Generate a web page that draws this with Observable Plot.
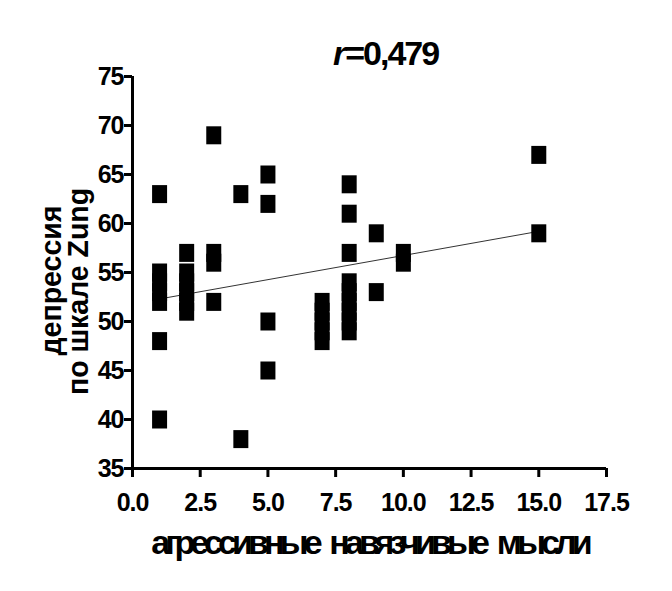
<!DOCTYPE html>
<html>
<head>
<meta charset="utf-8">
<script src="https://cdn.jsdelivr.net/npm/d3@7"></script>
<script src="https://cdn.jsdelivr.net/npm/@observablehq/plot@0.6"></script>
<style>
  body { margin: 0; background: #fff; }
  #chart { width: 672px; height: 591px; }
</style>
</head>
<body>
<div id="chart"></div>
<script>
// ── data ────────────────────────────────────────────────────
const aggrLevels = [1, 2, 3, 4, 5, 7, 8, 9, 10, 15];
const zungByLevel = [
  [63, 55, 54, 53, 52, 48, 40],          // 1
  [57, 55, 54, 53, 52, 51],              // 2
  [69, 57, 56, 52],                      // 3
  [63, 38],                              // 4
  [65, 62, 50, 45],                      // 5
  [52, 51, 50, 49, 48],                  // 7
  [64, 61, 57, 54, 53, 52, 51, 50, 49],  // 8
  [59, 53],                              // 9
  [57, 56],                              // 10
  [67, 59]                               // 15
];
// fitted line, as drawn (ends at x = 1 and x = 15)
const fitX = [1, 15];
const fitY = [52.3, 59.2];

const xTicks = [0, 2.5, 5, 7.5, 10, 12.5, 15, 17.5];
const yTicks = [35, 40, 45, 50, 55, 60, 65, 70, 75];

const titleText = "0,479";
const xLabel = "агрессивные навязчивые мысли";
const yLabel1 = "депрессия";
const yLabel2 = "по шкале Zung";

// ── tables for Plot ─────────────────────────────────────────
const points = aggrLevels.flatMap((x, i) => zungByLevel[i].map(y => ({x, y})));
const fit = fitX.map((x, i) => ({x, y: fitY[i]}));

// filled rectangle marker, a bit taller than wide
const rectSymbol = {
  draw(ctx) {
    ctx.moveTo(-7.5, -9);
    ctx.lineTo(7.5, -9);
    ctx.lineTo(7.5, 9);
    ctx.lineTo(-7.5, 9);
    ctx.closePath();
  }
};

const chart = Plot.plot({
  width: 672,
  height: 591,
  marginLeft: 132,
  marginRight: 66,
  marginTop: 76,
  marginBottom: 123,
  style: {
    fontFamily: "'Liberation Sans', Arial, sans-serif",
    fontWeight: "bold",
    color: "#000",
    background: "#fff"
  },
  x: { domain: [0, 17.5] },
  y: { domain: [35, 75] },
  marks: [
    Plot.axisX({
      ticks: xTicks,
      tickFormat: d3.format(".1f"),
      tickSize: 9,
      tickPadding: 16,
      strokeWidth: 3,
      fontSize: 25,
      label: null
    }),
    Plot.axisY({
      ticks: yTicks,
      tickSize: 8,
      tickPadding: 1,
      strokeWidth: 3,
      fontSize: 25,
      label: null
    }),
    Plot.ruleX([0], { strokeWidth: 3 }),
    Plot.ruleY([35], { strokeWidth: 3 }),
    Plot.line(fit, { x: "x", y: "y", stroke: "#333", strokeWidth: 1 }),
    Plot.dot(points, { x: "x", y: "y", symbol: rectSymbol, fill: "#000", stroke: "none" }),
    Plot.text([xLabel], {
      frameAnchor: "bottom", textAnchor: "middle", lineAnchor: "middle",
      dx: 0, dy: 75, fontSize: 34, fill: "#000"
    }),
    Plot.text([yLabel1], {
      frameAnchor: "left", textAnchor: "middle", lineAnchor: "middle", rotate: -90,
      dx: -81, dy: 8, fontSize: 30, fill: "#000"
    }),
    Plot.text([yLabel2], {
      frameAnchor: "left", textAnchor: "middle", lineAnchor: "middle", rotate: -90,
      dx: -54, dy: 19, fontSize: 30, fill: "#000"
    })
  ]
});

// squeeze the labels the way the original font looks
const squeeze = { [yLabel1]: 150, [yLabel2]: 207 };
d3.select(chart).selectAll("text").each(function () {
  const L = squeeze[this.textContent];
  if (L) d3.select(this).attr("textLength", L).attr("lengthAdjust", "spacingAndGlyphs");
  if (this.textContent === xLabel) {
    d3.select(this).attr("letter-spacing", "-4.9").attr("word-spacing", "7");
  }
});
d3.select(chart).selectAll("g[aria-label='x-axis tick label'] text, g[aria-label='y-axis tick label'] text")
  .attr("letter-spacing", "-1");

// title with italic r
const title = d3.select(chart).append("text")
  .attr("x", 333)
  .attr("y", 65)
  .attr("text-anchor", "start")
  .attr("font-size", 34)
  .attr("letter-spacing", "-2")
  .attr("fill", "#000");
title.append("tspan").attr("font-style", "italic").text("r");
title.append("tspan").attr("dx", 1).text("=" + titleText);

document.getElementById("chart").appendChild(chart);
</script>
</body>
</html>
